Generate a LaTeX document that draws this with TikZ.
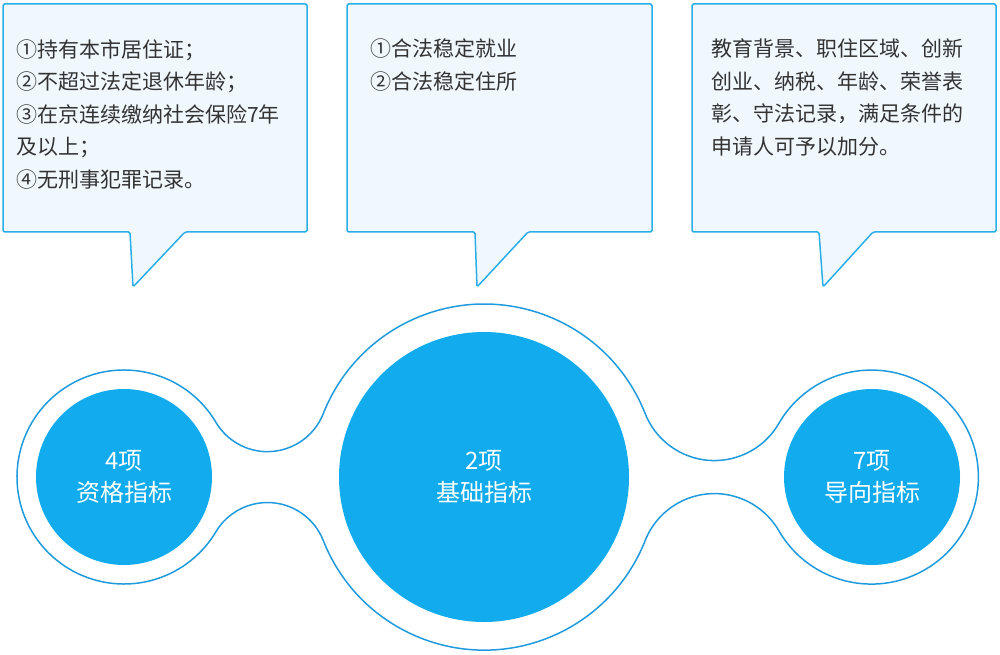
\documentclass[tikz,border=0pt]{standalone}
\usepackage{fontspec}
\setmainfont{Noto Sans CJK SC}
\definecolor{discblue}{HTML}{12ACEE}
\definecolor{ringblue}{HTML}{1F9BDD}
\definecolor{boxline}{HTML}{2AAEE8}
\definecolor{boxfill}{HTML}{F0F8FE}
\definecolor{ink}{HTML}{333333}

\begin{document}
\begin{tikzpicture}[x=1pt, y=1pt,
  bubble/.style={draw=boxline, fill=boxfill, line width=1.5pt, rounded corners=1.5pt, line join=round},
  memo/.style={font=\fontsize{21}{32.5}\selectfont, text=ink, align=left, inner sep=0pt, anchor=north west},
  disc/.style={circle, fill=discblue, text=white, inner sep=0pt, align=center, font=\fontsize{24}{32}\selectfont},
  ring/.style={draw=ringblue, line width=1.5pt}]
\useasboundingbox (0,0) rectangle (1000,654);

% Callout boxes
\draw[bubble] (3,650) -- (307,650) -- (307,422) -- (185,422) -- (133,367) -- (130,422) -- (3,422) -- cycle;
\draw[bubble] (347,650) -- (652,650) -- (652,422) -- (528,422) -- (477,367) -- (475,422) -- (347,422) -- cycle;
\draw[bubble] (692,650) -- (996,650) -- (996,422) -- (873,422) -- (823,367) -- (819,422) -- (692,422) -- cycle;

% Callout texts
\node[memo] (req) at (16,615) {①持有本市居住证；\\②不超过法定退休年龄；\\③在京连续缴纳社会保险7年\\及以上；\\④无刑事犯罪记录。};
\node[memo] (core) at (370,615) {①合法稳定就业\\②合法稳定住所};
\node[memo] (bonus) at (711,615) {教育背景、职住区域、创新\\创业、纳税、年龄、荣誉表\\彰、守法记录，满足条件的\\申请人可予以加分。};

% Outline round the three discs
\draw[ring] (124,177) ++(30.8:107) arc[start angle=30.8, end angle=329.2, radius=107]
  arc[start angle=149.2, end angle=21.5, radius=60]
  arc[start angle=201.5, end angle=338.43, radius=173]
  arc[start angle=158.43, end angle=30.1, radius=74.5]
  arc[start angle=210.1, end angle=509.9, radius=107]
  arc[start angle=329.9, end angle=201.57, radius=74.5]
  arc[start angle=21.57, end angle=158.5, radius=173]
  arc[start angle=338.5, end angle=210.8, radius=60] -- cycle;

% Discs
\node[disc, minimum size=176] (qual) at (124,177) {4项\\资格指标};
\node[disc, minimum size=290] (basic) at (484,177) {2项\\基础指标};
\node[disc, minimum size=176] (guide) at (872,177) {7项\\导向指标};
\end{tikzpicture}
\end{document}
